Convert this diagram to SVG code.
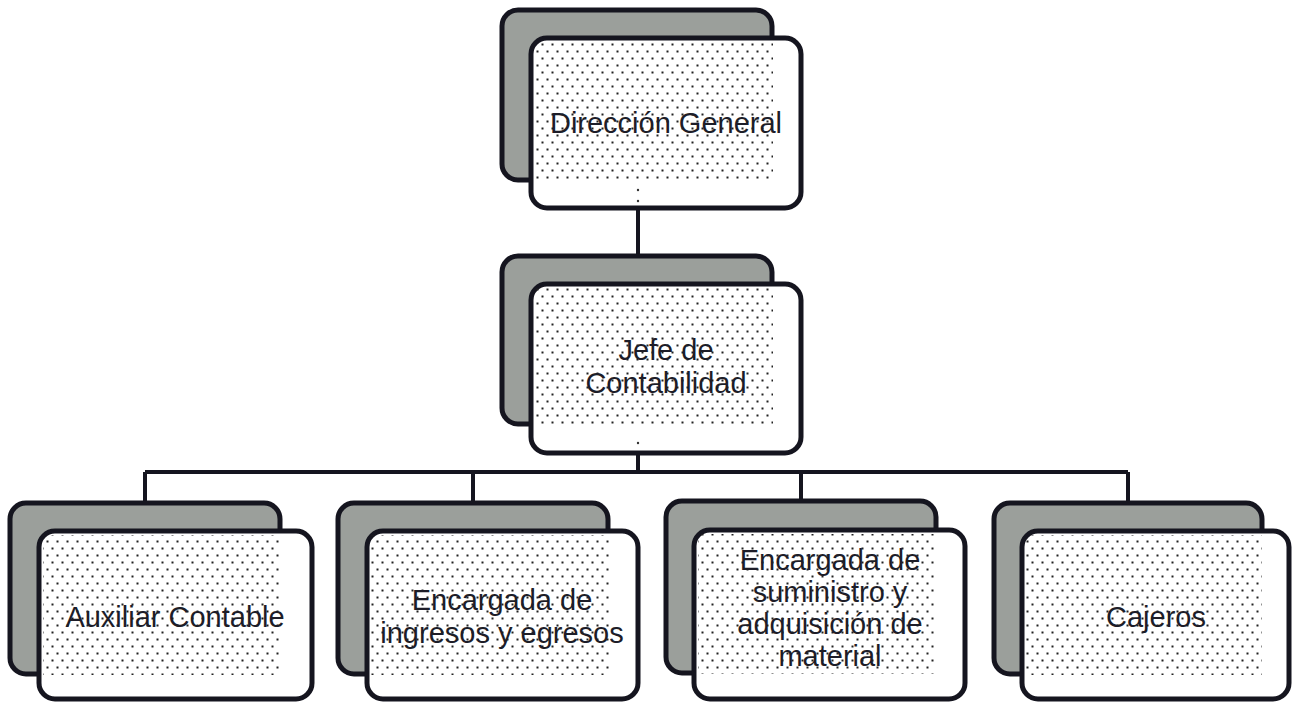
<svg xmlns="http://www.w3.org/2000/svg" width="1293" height="702" viewBox="0 0 1293 702">
<defs>
<pattern id="dots" width="10" height="14" patternUnits="userSpaceOnUse">
<rect x="1.5" y="1.5" width="2" height="2" fill="#222"/>
<rect x="6.5" y="8.5" width="2" height="2" fill="#222"/>
</pattern>
<style>
.back{fill:#9b9f9b;stroke:#15151f;stroke-width:5}
.front{fill:#ffffff;stroke:#15151f;stroke-width:5}
.dot{fill:url(#dots)}
.conn{stroke:#15151f;stroke-width:4;fill:none}
.lbl{font-family:"Liberation Sans",Arial,sans-serif;font-size:29px;fill:#1d1d28;text-anchor:middle}
.spk{fill:#333}
</style>
</defs>
<rect width="1293" height="702" fill="#ffffff"/>
<g id="connectors">
<path class="conn" d="M638 208V256"/>
<path class="conn" d="M638 453V472M145 472H1128M145 472V503M473 472V503M801 472V503M1128 472V503"/>
</g>
<g id="n-direccion">
<rect class="back" x="502" y="10" width="270" height="170" rx="16"/>
<rect class="front" x="531" y="38" width="270" height="170" rx="16"/>
<rect class="dot" x="535" y="42" width="238" height="140"/>
<circle class="spk" cx="638" cy="190" r="1.2"/><circle class="spk" cx="638" cy="201" r="1.2"/>
<text class="lbl" x="666" y="133">Dirección General</text>
</g>
<g id="n-jefe">
<rect class="back" x="502" y="256" width="270" height="168" rx="16"/>
<rect class="front" x="531" y="284" width="270" height="169" rx="16"/>
<rect class="dot" x="535" y="288" width="238" height="137"/>
<circle class="spk" cx="638" cy="443" r="1.2"/>
<text class="lbl" x="666" y="360">Jefe de</text>
<text class="lbl" x="666" y="393">Contabilidad</text>
</g>
<g id="n-auxiliar">
<rect class="back" x="10" y="503" width="270" height="171" rx="16"/>
<rect class="front" x="39" y="531" width="273" height="168" rx="16"/>
<rect class="dot" x="43" y="535" width="238" height="140"/>
<text class="lbl" x="175" y="627">Auxiliar Contable</text>
</g>
<g id="n-ingresos">
<rect class="back" x="338" y="503" width="270" height="171" rx="16"/>
<rect class="front" x="367" y="531" width="271" height="168" rx="16"/>
<rect class="dot" x="371" y="535" width="238" height="140"/>
<text class="lbl" x="502" y="610">Encargada de</text>
<text class="lbl" x="502" y="643">ingresos y egresos</text>
</g>
<g id="n-suministro">
<rect class="back" x="666" y="501" width="270" height="172" rx="16"/>
<rect class="front" x="694" y="530" width="271" height="169" rx="16"/>
<rect class="dot" x="698" y="534" width="238" height="140"/>
<text class="lbl" x="830" y="570">Encargada de</text>
<text class="lbl" x="830" y="602">suministro y</text>
<text class="lbl" x="830" y="634">adquisición de</text>
<text class="lbl" x="830" y="666">material</text>
</g>
<g id="n-cajeros">
<rect class="back" x="994" y="503" width="268" height="171" rx="16"/>
<rect class="front" x="1022" y="531" width="267" height="168" rx="16"/>
<rect class="dot" x="1026" y="535" width="236" height="140"/>
<text class="lbl" x="1156" y="627">Cajeros</text>
</g>
</svg>
